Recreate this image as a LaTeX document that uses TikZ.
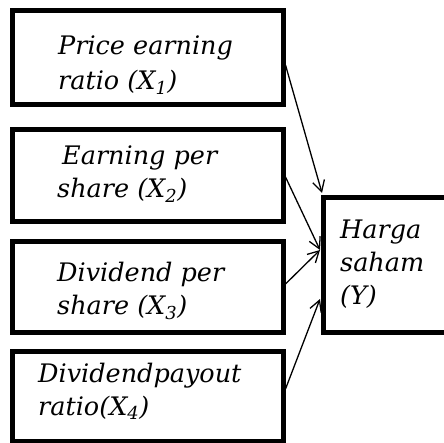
\documentclass[tikz,border=0pt]{standalone}
\usepackage{fontspec}
\setmainfont{DejaVu Serif}
\usetikzlibrary{arrows.meta}
\begin{document}
\begin{tikzpicture}[x=1pt,y=-1pt,
  box/.style={draw,line width=5pt},
  lbl/.style={anchor=base west,inner sep=0pt,font=\fontsize{25.5}{30}\selectfont\itshape},
  conn/.style={line width=1.3pt,-{Straight Barb[length=11pt,width=12pt,line width=1.3pt]}}]
\useasboundingbox (0,0) rectangle (444,443);
\clip (0,0) rectangle (444,443);
\node[box,minimum width=271pt,minimum height=94pt,inner sep=0pt] (b1) at (147.5,57.5) {};
\node[box,minimum width=271pt,minimum height=92pt,inner sep=0pt] (b2) at (147.5,175.5) {};
\node[box,minimum width=271pt,minimum height=91pt,inner sep=0pt] (b3) at (147.5,287) {};
\node[box,minimum width=271pt,minimum height=90pt,inner sep=0pt] (b4) at (147.5,396.5) {};
\node[box,minimum width=140pt,minimum height=134.5pt,inner sep=0pt] (hy) at (393,265.25) {};
\node[lbl] (t1a) at (58,55) {Price earning};
\node[lbl] (t1b) at (58,90) {ratio (X\textsubscript{1})};
\node[lbl] (t2a) at (62,165) {Earning per};
\node[lbl] (t2b) at (57,198) {share (X\textsubscript{2})};
\node[lbl] (t3a) at (57,282) {Dividend per};
\node[lbl] (t3b) at (57,315) {share (X\textsubscript{3})};
\node[lbl] (t4a) at (38,382) {Dividendpayout};
\node[lbl] (t4b) at (38,415) {ratio(X\textsubscript{4})};
\node[lbl] (ya) at (340,239) {Harga};
\node[lbl] (yb) at (340,272) {saham};
\node[lbl] (yc) at (340,305) {(Y)};
\coordinate (e1) at (322,193);
\coordinate (e2) at (320,250);
\coordinate (e4) at (320,299);
\draw[conn] (b1.east |- 0,65) -- (e1);
\draw[conn] (b2.east |- 0,177) -- (e2);
\draw[conn] (b3.east |- 0,284) -- (e2);
\draw[conn] (b4.east |- 0,389) -- (e4);
\end{tikzpicture}
\end{document}
